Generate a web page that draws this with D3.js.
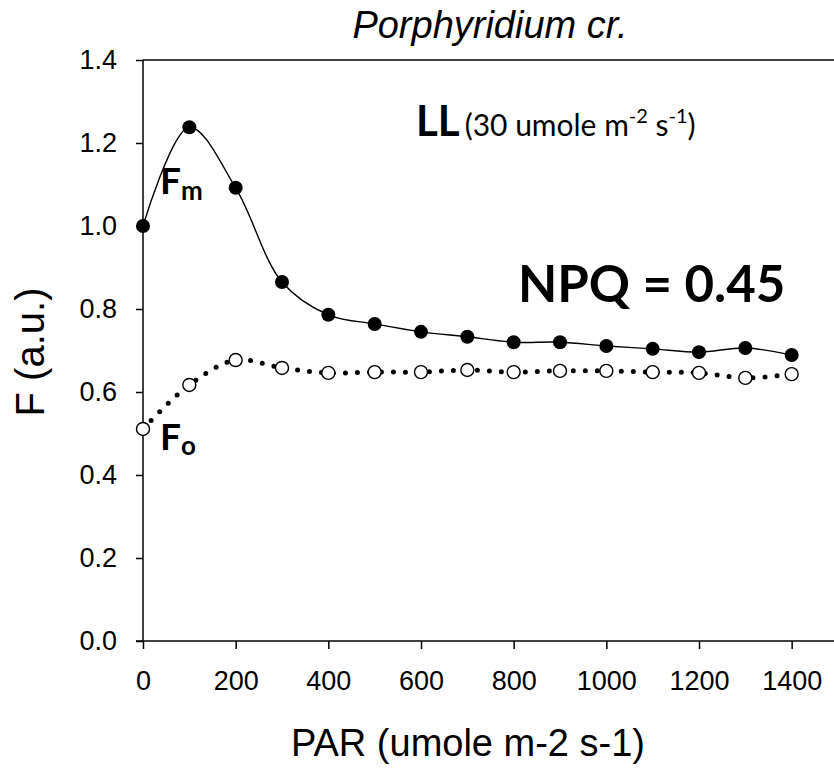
<!DOCTYPE html>
<html lang="en">
<head>
<meta charset="utf-8">
<title>Porphyridium cr.</title>
<script src="https://cdn.jsdelivr.net/npm/d3@7"></script>
<style>
  body { margin: 0; background: #fff; }
  text { font-family: "Liberation Sans", Arial, sans-serif; }
</style>
</head>
<body>
<script>
// data
var par = [0, 100, 200, 300, 400, 500, 600, 700, 800, 900, 1000, 1100, 1200, 1300, 1400];
var fm = [1.00, 1.238, 1.092, 0.865, 0.786, 0.764, 0.745, 0.733, 0.720, 0.720, 0.711, 0.704, 0.696, 0.706, 0.689];
var fo = [0.511, 0.617, 0.677, 0.658, 0.646, 0.648, 0.648, 0.653, 0.648, 0.651, 0.651, 0.648, 0.646, 0.634, 0.643];
var xTicks = [0, 200, 400, 600, 800, 1000, 1200, 1400];
var yTicks = [0, 0.2, 0.4, 0.6, 0.8, 1.0, 1.2, 1.4];

var w = 834, h = 770;
var svg = d3.select("body").append("svg").attr("width", w).attr("height", h);

var x = d3.scaleLinear().domain([0, 1500]).range([143, 838]);
var y = d3.scaleLinear().domain([0, 1.4]).range([641, 60]);

// axes
var xAxis = svg.append("g").attr("transform", "translate(0,641)")
  .call(d3.axisBottom(x).tickValues(xTicks).tickSize(8).tickPadding(22).tickFormat(d3.format("d")));
var yAxis = svg.append("g").attr("transform", "translate(143,0)")
  .call(d3.axisLeft(y).tickValues(yTicks).tickSize(7).tickPadding(19).tickFormat(d3.format(".1f")));
[xAxis, yAxis].forEach(function(a) {
  a.select(".domain").remove();
  a.selectAll("line").attr("stroke", "#000").attr("stroke-width", 1.5);
  a.selectAll("text").attr("font-size", 27).attr("fill", "#000")
    .style("font-family", "'Liberation Sans', Arial, sans-serif");
});
// frame lines (left, bottom, top)
svg.append("line").attr("x1", 143).attr("x2", 143).attr("y1", 60).attr("y2", 641)
  .attr("stroke", "#000").attr("stroke-width", 1.5);
svg.append("line").attr("x1", 136).attr("x2", w).attr("y1", 641).attr("y2", 641)
  .attr("stroke", "#000").attr("stroke-width", 1.5);
svg.append("line").attr("x1", 143).attr("x2", w).attr("y1", 60).attr("y2", 60)
  .attr("stroke", "#000").attr("stroke-width", 1.5);

var line = d3.line()
  .x(function(d) { return x(d[0]); })
  .y(function(d) { return y(d[1]); })
  .curve(d3.curveCatmullRom.alpha(0.5));

var fmPts = par.map(function(p, i) { return [p, fm[i]]; });
var foPts = par.map(function(p, i) { return [p, fo[i]]; });

svg.append("path").attr("d", line(fmPts)).attr("fill", "none")
  .attr("stroke", "#000").attr("stroke-width", 1.4);
svg.append("path").attr("d", line(foPts)).attr("fill", "none")
  .attr("stroke", "#000").attr("stroke-width", 5)
  .attr("stroke-linecap", "round").attr("stroke-dasharray", "0 12");

svg.selectAll("circle.fo").data(foPts).enter().append("circle")
  .attr("class", "fo")
  .attr("cx", function(d) { return x(d[0]); })
  .attr("cy", function(d) { return y(d[1]); })
  .attr("r", 6.5).attr("fill", "#fff").attr("stroke", "#000").attr("stroke-width", 1.4);
svg.selectAll("circle.fm").data(fmPts).enter().append("circle")
  .attr("class", "fm")
  .attr("cx", function(d) { return x(d[0]); })
  .attr("cy", function(d) { return y(d[1]); })
  .attr("r", 7).attr("fill", "#000");

// titles
svg.append("text").attr("x", 490).attr("y", 38).attr("text-anchor", "middle")
  .attr("font-size", 38).attr("font-style", "italic").text("Porphyridium cr.");
svg.append("text").attr("x", 468).attr("y", 756).attr("text-anchor", "middle")
  .attr("font-size", 38).text("PAR (umole m-2 s-1)");
svg.append("text").attr("transform", "translate(44,352) rotate(-90)").attr("text-anchor", "middle")
  .attr("font-size", 40).text("F (a.u.)");

// annotations
var bold = "Lato, 'Open Sans', sans-serif";
var ll = svg.append("text").attr("x", 416).attr("y", 136).style("font-family", bold);
ll.append("tspan").attr("font-size", 42).attr("font-weight", "bold").text("LL");
ll.append("tspan").attr("font-size", 30).attr("dx", 5).text("(30 umole m");
ll.append("tspan").attr("font-size", 20).attr("dy", -13).text("-2");
ll.append("tspan").attr("font-size", 30).attr("dy", 13).text(" s");
ll.append("tspan").attr("font-size", 20).attr("dy", -13).text("-1");
ll.append("tspan").attr("font-size", 30).attr("dy", 13).text(")");

svg.append("text").attr("x", 518).attr("y", 302).style("font-family", bold)
  .attr("font-size", 51).attr("font-weight", "bold").text("NPQ = 0.45");

var fmL = svg.append("text").attr("x", 160).attr("y", 194).style("font-family", bold).attr("font-weight", "bold");
fmL.append("tspan").attr("font-size", 37).text("F");
fmL.append("tspan").attr("font-size", 26).attr("dy", 6).text("m");
var foL = svg.append("text").attr("x", 160).attr("y", 450).style("font-family", bold).attr("font-weight", "bold");
foL.append("tspan").attr("font-size", 37).text("F");
foL.append("tspan").attr("font-size", 26).attr("dy", 5).text("o");
</script>
</body>
</html>
